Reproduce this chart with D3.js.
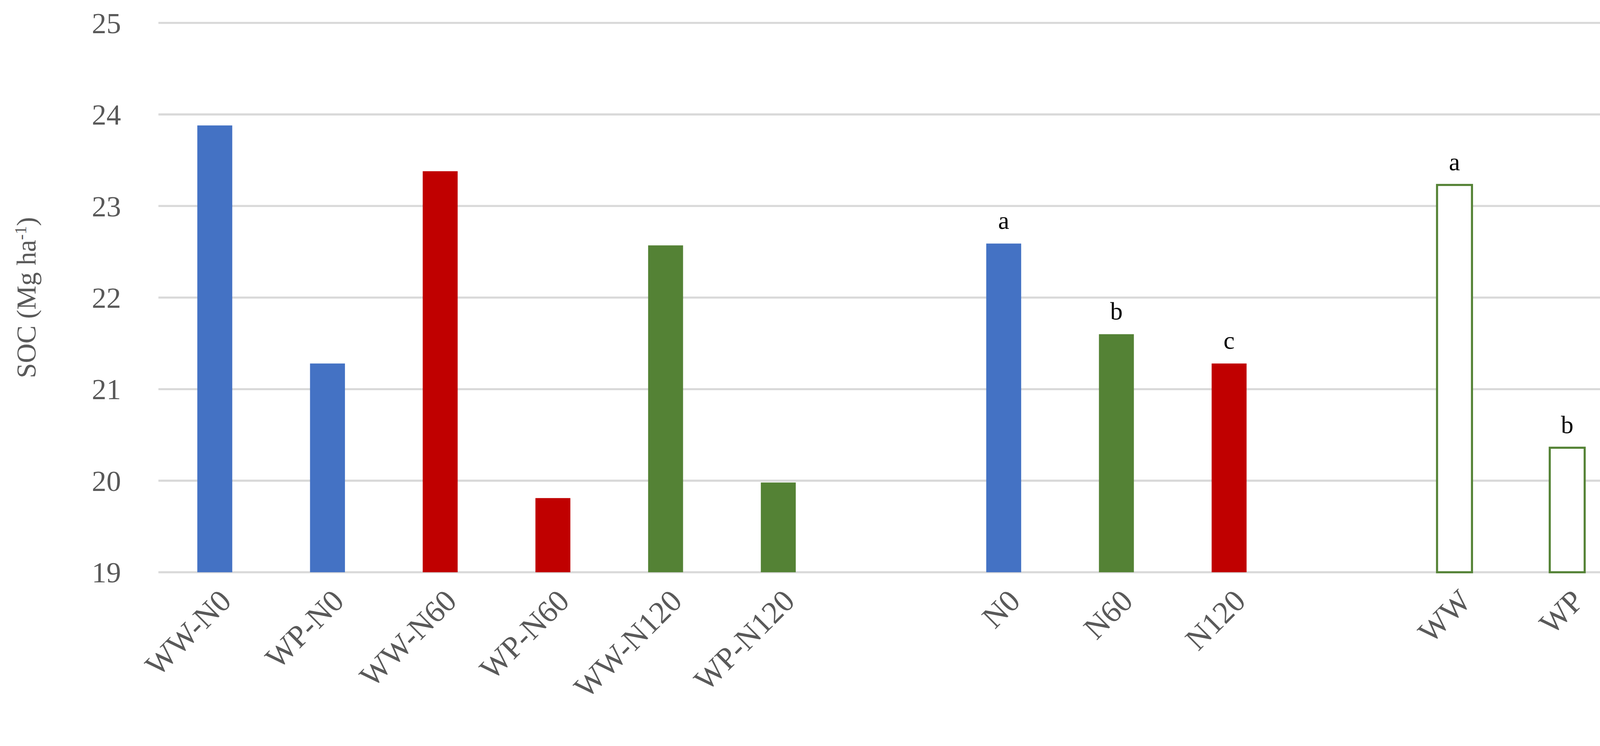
<html lang="en">
<head>
<meta charset="UTF-8">
<script src="https://cdnjs.cloudflare.com/ajax/libs/d3/7.8.5/d3.min.js"></script>
<style>
  body { margin: 0; background: #fff; }
  text { font-family: "Liberation Serif", "DejaVu Serif", serif; }
</style>
</head>
<body>
<div id="onlydiv"></div>
<script>
// Data
var categories = ["WW-N0", "WP-N0", "WW-N60", "WP-N60", "WW-N120", "WP-N120", "", "N0", "N60", "N120", " ", "WW", "WP"];
var values = [23.88, 21.28, 23.38, 19.81, 22.57, 19.98, null, 22.59, 21.6, 21.28, null, 23.23, 20.36];
var colors = ["blue", "blue", "red", "red", "green", "green", null, "blue", "green", "red", null, "outline", "outline"];
var letters = ["", "", "", "", "", "", "", "a", "b", "c", "", "a", "b"];
var yTicks = [19, 20, 21, 22, 23, 24, 25];

var palette = { blue: "#4472C4", red: "#C00000", green: "#548235", outline: "#fff" };

// Size (drawn in a 1563x717 frame, scaled to the window)
var w = 1563, h = 717;
var padLeft = 152, padRight = 1560, padTop = 22, padBottom = 550;

var svg = d3.select("#onlydiv").append("svg")
  .attr("width", 4165).attr("height", 1910)
  .attr("viewBox", "0 0 " + w + " " + h);

var xScale = d3.scaleBand().domain(categories).range([padLeft, padRight]).padding(0);
var yScale = d3.scaleLinear().domain([19, 25]).range([padBottom, padTop]);
var barW = xScale.bandwidth() * 0.31;

// Gridlines
svg.selectAll("line.grid").data(yTicks).enter().append("line")
  .attr("x1", padLeft).attr("x2", padRight)
  .attr("y1", function(d) { return yScale(d); })
  .attr("y2", function(d) { return yScale(d); })
  .attr("stroke", "#d9d9d9").attr("stroke-width", 2);

// y tick labels
svg.selectAll("text.ytick").data(yTicks).enter().append("text")
  .attr("x", 116).attr("y", function(d) { return yScale(d); })
  .attr("dy", "0.35em").attr("text-anchor", "end")
  .attr("font-size", 28).attr("fill", "#595959")
  .text(function(d) { return d; });

var data = categories.map(function(c, i) {
  return { cat: c, v: values[i], col: colors[i], letter: letters[i] };
}).filter(function(d) { return d.v !== null; });

// Bars
svg.selectAll("rect.bar").data(data).enter().append("rect")
  .attr("x", function(d) { return xScale(d.cat) + xScale.bandwidth() / 2 - barW / 2; })
  .attr("y", function(d) { return yScale(d.v); })
  .attr("width", barW)
  .attr("height", function(d) { return yScale(19) - yScale(d.v); })
  .attr("fill", function(d) { return palette[d.col]; })
  .attr("stroke", function(d) { return d.col === "outline" ? "#548235" : "none"; })
  .attr("stroke-width", 2);

// Significance letters
svg.selectAll("text.letter").data(data.filter(function(d) { return d.letter; })).enter().append("text")
  .attr("x", function(d) { return xScale(d.cat) + xScale.bandwidth() / 2; })
  .attr("y", function(d) { return yScale(d.v) - 14; })
  .attr("text-anchor", "middle").attr("font-size", 24).attr("fill", "#000")
  .text(function(d) { return d.letter; });

// x labels
svg.selectAll("text.xlab").data(data).enter().append("text")
  .attr("transform", function(d) {
    return "translate(" + (xScale(d.cat) + xScale.bandwidth() / 2 + 10) + "," + (padBottom + 22) + ") rotate(-45)";
  })
  .attr("text-anchor", "end").attr("dy", "0.35em")
  .attr("font-size", 30).attr("fill", "#595959")
  .text(function(d) { return d.cat; });

// y axis title
var yt = svg.append("text")
  .attr("transform", "translate(34," + ((padTop + padBottom) / 2) + ") rotate(-90)")
  .attr("text-anchor", "middle").attr("font-size", 26).attr("fill", "#595959");
yt.append("tspan").text("SOC (Mg ha");
yt.append("tspan").attr("dy", -9).attr("font-size", 16).text("-1");
yt.append("tspan").attr("dy", 9).text(")");
</script>
</body>
</html>
